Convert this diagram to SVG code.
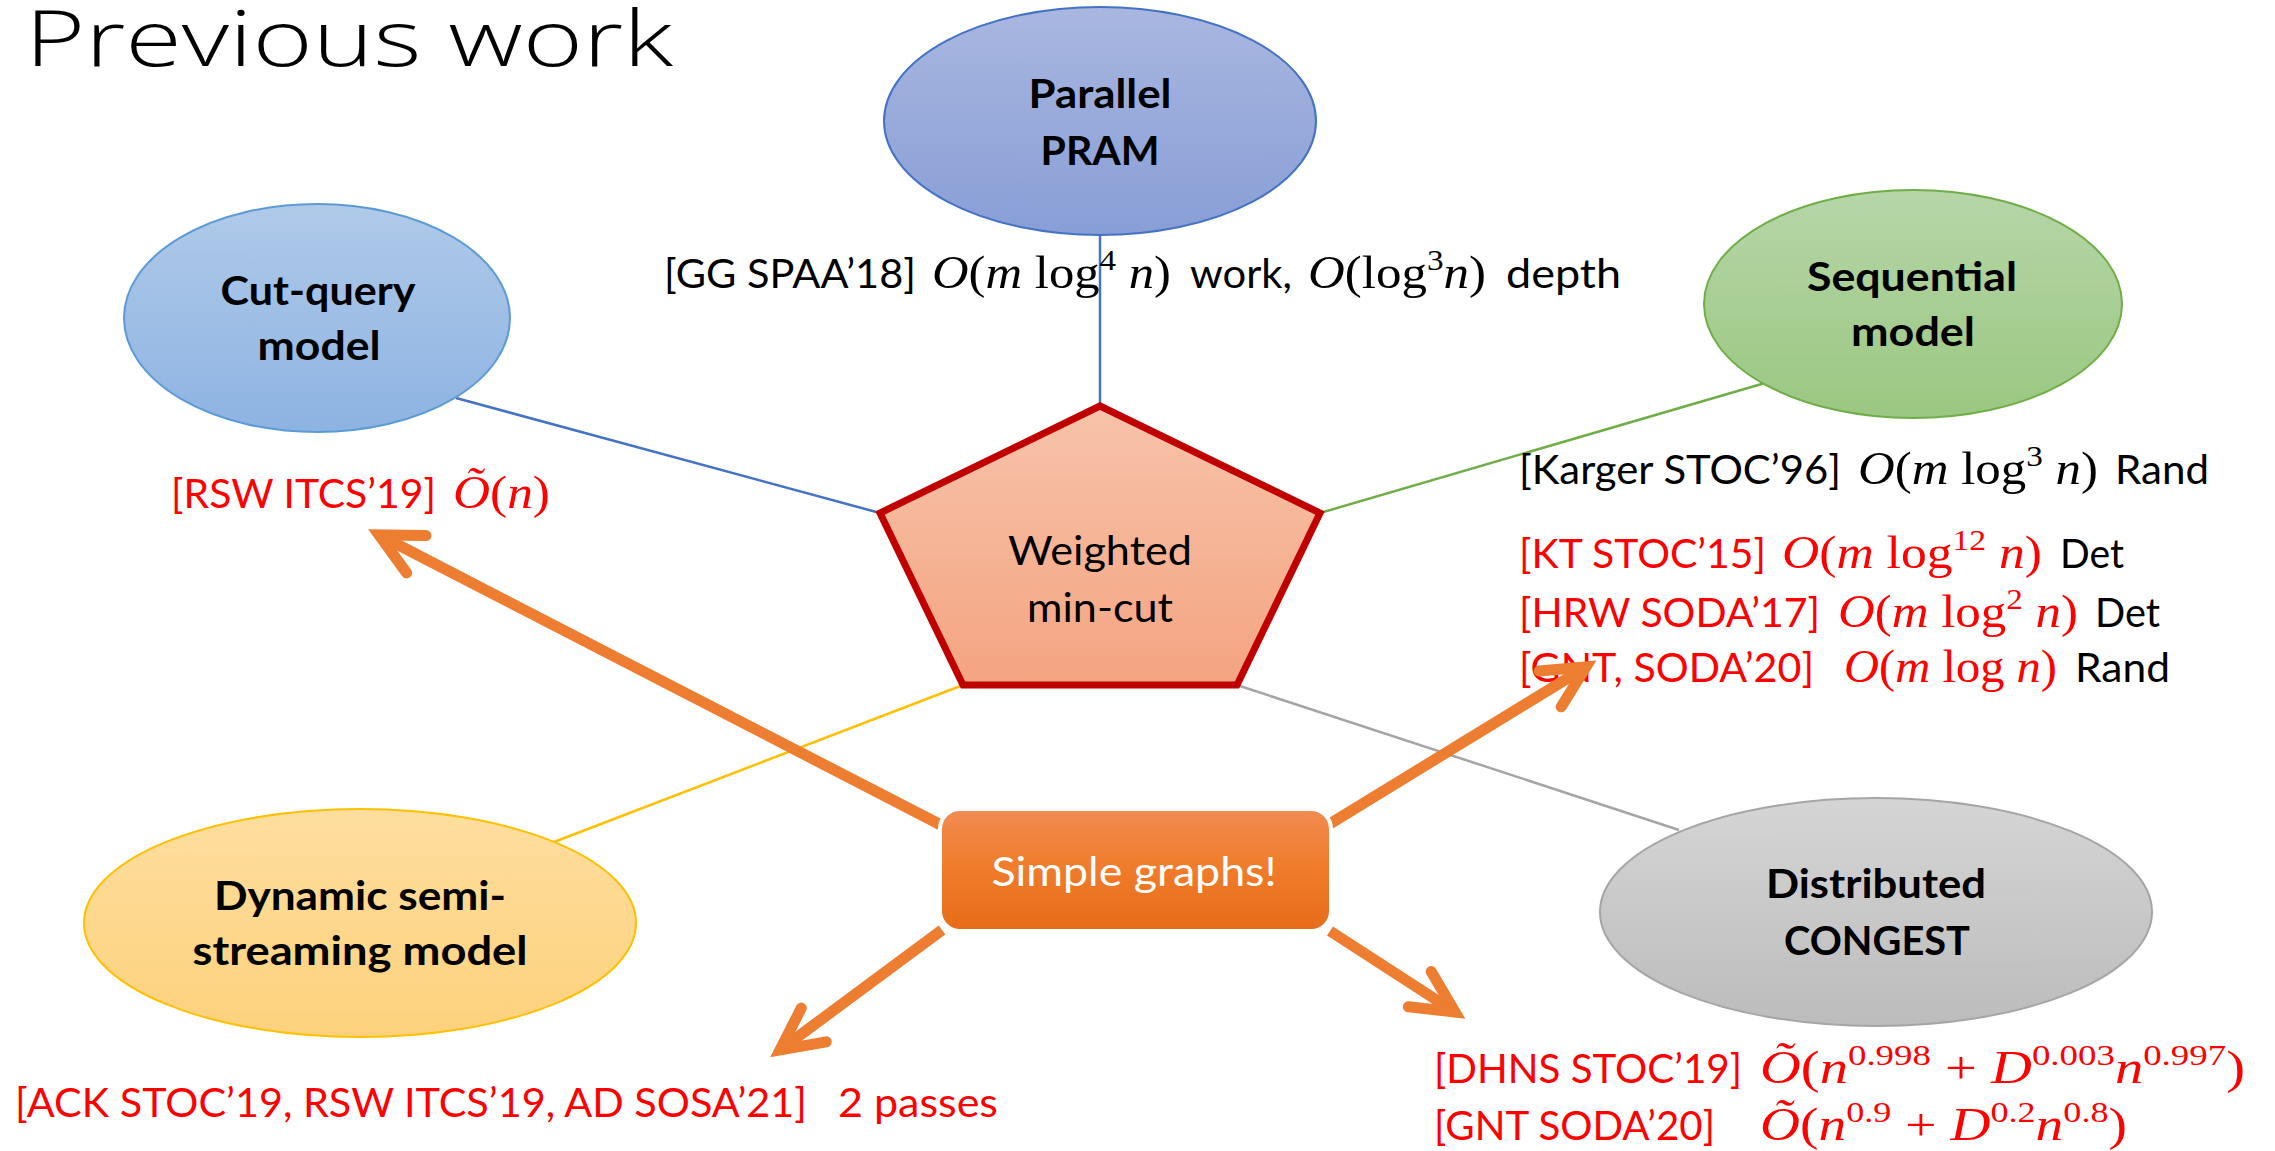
<svg xmlns="http://www.w3.org/2000/svg" width="2275" height="1151" viewBox="0 0 2275 1151">
  <defs>
    <style>
      .sans { font-family: Lato, "Open Sans", "Liberation Sans", sans-serif; font-size: 40px; }
      .bold { font-weight: 700; }
      .math { font-family: "Liberation Serif", "DejaVu Serif", serif; font-size: 46px; }
      .i { font-style: italic; }
      .sup { font-size: 30px; }
      .red { fill: #FF0000; }
      .blk { fill: #000000; }
      .edge { fill: none; stroke-width: 2.5; }
      .arrow { fill: none; stroke: #ED7D31; stroke-width: 11; }
    </style>
    <linearGradient id="gParallel" x1="0" y1="0" x2="0" y2="1">
      <stop offset="0" stop-color="#A9B7E0"/>
      <stop offset="1" stop-color="#889ED6"/>
    </linearGradient>
    <linearGradient id="gCut" x1="0" y1="0" x2="0" y2="1">
      <stop offset="0" stop-color="#B0CAE9"/>
      <stop offset="1" stop-color="#8DB3E2"/>
    </linearGradient>
    <linearGradient id="gSeq" x1="0" y1="0" x2="0" y2="1">
      <stop offset="0" stop-color="#B6D6A8"/>
      <stop offset="1" stop-color="#9AC781"/>
    </linearGradient>
    <linearGradient id="gDyn" x1="0" y1="0" x2="0" y2="1">
      <stop offset="0" stop-color="#FEDE9F"/>
      <stop offset="1" stop-color="#FDD17C"/>
    </linearGradient>
    <linearGradient id="gDist" x1="0" y1="0" x2="0" y2="1">
      <stop offset="0" stop-color="#D5D5D5"/>
      <stop offset="1" stop-color="#BCBCBC"/>
    </linearGradient>
    <linearGradient id="gPent" x1="0" y1="0" x2="0" y2="1">
      <stop offset="0" stop-color="#F7C3AA"/>
      <stop offset="1" stop-color="#F4A481"/>
    </linearGradient>
    <linearGradient id="gBox" x1="0" y1="0" x2="0" y2="1">
      <stop offset="0" stop-color="#F18C52"/>
      <stop offset="0.5" stop-color="#F07B2A"/>
      <stop offset="1" stop-color="#E66C19"/>
    </linearGradient>
    <!-- open chevron head for the thick orange arrows -->
    <marker id="head" viewBox="-60 -30 80 60" refX="0" refY="0" markerWidth="80" markerHeight="60" markerUnits="userSpaceOnUse" orient="auto">
      <path d="M-42,-21 L0,0 L-42,21" fill="none" stroke="#ED7D31" stroke-width="11" stroke-linecap="round" stroke-linejoin="miter"/>
    </marker>
  </defs>

  <rect x="0" y="0" width="2275" height="1151" fill="#FFFFFF"/>

  <!-- title -->
  <text x="25" y="66" font-family="'Open Sans', Lato, 'Liberation Sans', sans-serif" font-weight="300" font-size="78" textLength="648" lengthAdjust="spacingAndGlyphs" fill="#000">Previous work</text>

  <!-- thin connectors from the models to the central problem -->
  <g id="connectors">
    <path class="edge" d="M456,398 L880,513" stroke="#4472C4"/>
    <path class="edge" d="M1100,235 L1100,406" stroke="#4472C4" stroke-width="2"/>
    <path class="edge" d="M1765,383 L1320,513" stroke="#70AD47"/>
    <path class="edge" d="M554,842 L963,685" stroke="#FFC000"/>
    <path class="edge" d="M1237,685 L1679,830" stroke="#A5A5A5"/>
  </g>

  <g id="parallel">
    <ellipse cx="1100" cy="121" rx="216" ry="114" fill="url(#gParallel)" stroke="#4472C4" stroke-width="2"/>
    <text class="sans bold blk" x="1100" y="108" text-anchor="middle" textLength="143" lengthAdjust="spacingAndGlyphs">Parallel</text>
    <text class="sans bold blk" x="1100" y="165" text-anchor="middle" textLength="119" lengthAdjust="spacingAndGlyphs">PRAM</text>
  </g>

  <g id="cut-query">
    <ellipse cx="317" cy="318" rx="193" ry="114" fill="url(#gCut)" stroke="#5B9BD5" stroke-width="2"/>
    <text class="sans bold blk" x="318" y="305" text-anchor="middle" textLength="195" lengthAdjust="spacingAndGlyphs">Cut-query</text>
    <text class="sans bold blk" x="319" y="360" text-anchor="middle" textLength="123" lengthAdjust="spacingAndGlyphs">model</text>
  </g>

  <g id="sequential">
    <ellipse cx="1913" cy="304" rx="209" ry="114" fill="url(#gSeq)" stroke="#70AD47" stroke-width="2"/>
    <text class="sans bold blk" x="1912" y="291" text-anchor="middle" textLength="210" lengthAdjust="spacingAndGlyphs">Sequential</text>
    <text class="sans bold blk" x="1913" y="346" text-anchor="middle" textLength="124" lengthAdjust="spacingAndGlyphs">model</text>
  </g>

  <g id="dynamic">
    <ellipse cx="360" cy="923" rx="276" ry="114" fill="url(#gDyn)" stroke="#FFC000" stroke-width="2"/>
    <text class="sans bold blk" x="360" y="910" text-anchor="middle" textLength="292" lengthAdjust="spacingAndGlyphs">Dynamic semi-</text>
    <text class="sans bold blk" x="360" y="965" text-anchor="middle" textLength="335" lengthAdjust="spacingAndGlyphs">streaming model</text>
  </g>

  <g id="distributed">
    <ellipse cx="1876" cy="912" rx="276" ry="114" fill="url(#gDist)" stroke="#A5A5A5" stroke-width="2"/>
    <text class="sans bold blk" x="1876" y="898" text-anchor="middle" textLength="220" lengthAdjust="spacingAndGlyphs">Distributed</text>
    <text class="sans bold blk" x="1877" y="955" text-anchor="middle" textLength="186" lengthAdjust="spacingAndGlyphs">CONGEST</text>
  </g>

  <g id="min-cut">
    <polygon points="1100,406 1320,513 1237,685 963,685 880,513" fill="url(#gPent)" stroke="#C00000" stroke-width="7" stroke-linejoin="miter"/>
    <text class="sans blk" x="1100" y="565" text-anchor="middle" textLength="184" lengthAdjust="spacingAndGlyphs">Weighted</text>
    <text class="sans blk" x="1100" y="622" text-anchor="middle" textLength="146" lengthAdjust="spacingAndGlyphs">min-cut</text>
  </g>

  <!-- results per model -->
  <g id="results-parallel">
    <text class="sans blk" x="664" y="288" textLength="252" lengthAdjust="spacingAndGlyphs">[GG SPAA’18]</text>
    <text class="math blk" x="932" y="288" textLength="239" lengthAdjust="spacingAndGlyphs"><tspan class="i">O</tspan>(<tspan class="i">m</tspan> log<tspan class="sup" dy="-18">4</tspan><tspan class="i" dy="18"> n</tspan>)</text>
    <text class="sans blk" x="1190" y="288" textLength="102" lengthAdjust="spacingAndGlyphs">work,</text>
    <text class="math blk" x="1308" y="288" textLength="178" lengthAdjust="spacingAndGlyphs"><tspan class="i">O</tspan>(log<tspan class="sup" dy="-18">3</tspan><tspan class="i" dy="18">n</tspan>)</text>
    <text class="sans blk" x="1506" y="288" textLength="115" lengthAdjust="spacingAndGlyphs">depth</text>
  </g>

  <g id="results-sequential">
    <text class="sans blk" x="1519" y="484" textLength="322" lengthAdjust="spacingAndGlyphs">[Karger STOC’96]</text>
    <text class="math blk" x="1858" y="484" textLength="240" lengthAdjust="spacingAndGlyphs"><tspan class="i">O</tspan>(<tspan class="i">m</tspan> log<tspan class="sup" dy="-18">3</tspan><tspan class="i" dy="18"> n</tspan>)</text>
    <text class="sans blk" x="2115" y="484" textLength="94" lengthAdjust="spacingAndGlyphs">Rand</text>

    <text class="sans red" x="1519" y="568" textLength="247" lengthAdjust="spacingAndGlyphs">[KT STOC’15]</text>
    <text class="math red" x="1782" y="568" textLength="260" lengthAdjust="spacingAndGlyphs"><tspan class="i">O</tspan>(<tspan class="i">m</tspan> log<tspan class="sup" dy="-18">12</tspan><tspan class="i" dy="18"> n</tspan>)</text>
    <text class="sans blk" x="2060" y="568" textLength="64" lengthAdjust="spacingAndGlyphs">Det</text>

    <text class="sans red" x="1519" y="627" textLength="301" lengthAdjust="spacingAndGlyphs">[HRW SODA’17]</text>
    <text class="math red" x="1838" y="627" textLength="240" lengthAdjust="spacingAndGlyphs"><tspan class="i">O</tspan>(<tspan class="i">m</tspan> log<tspan class="sup" dy="-18">2</tspan><tspan class="i" dy="18"> n</tspan>)</text>
    <text class="sans blk" x="2095" y="627" textLength="65" lengthAdjust="spacingAndGlyphs">Det</text>

    <text class="sans red" x="1519" y="682" textLength="295" lengthAdjust="spacingAndGlyphs">[GNT, SODA’20]</text>
    <text class="math red" x="1844" y="682" textLength="213" lengthAdjust="spacingAndGlyphs"><tspan class="i">O</tspan>(<tspan class="i">m</tspan> log <tspan class="i">n</tspan>)</text>
    <text class="sans blk" x="2075" y="682" textLength="95" lengthAdjust="spacingAndGlyphs">Rand</text>
  </g>

  <g id="results-cut-query">
    <text class="sans red" x="171" y="508" textLength="265" lengthAdjust="spacingAndGlyphs">[RSW ITCS’19]</text>
    <text class="math red" x="453" y="508" textLength="97" lengthAdjust="spacingAndGlyphs"><tspan class="i">Õ</tspan>(<tspan class="i">n</tspan>)</text>
  </g>

  <g id="results-streaming">
    <text class="sans red" x="15" y="1117" textLength="792" lengthAdjust="spacingAndGlyphs">[ACK STOC’19, RSW ITCS’19, AD SOSA’21]</text>
    <text class="sans red" x="838" y="1117" textLength="160" lengthAdjust="spacingAndGlyphs">2 passes</text>
  </g>

  <g id="results-distributed">
    <text class="sans red" x="1434" y="1083" textLength="308" lengthAdjust="spacingAndGlyphs">[DHNS STOC’19]</text>
    <text class="math red" x="1760" y="1083" textLength="485" lengthAdjust="spacingAndGlyphs"><tspan class="i">Õ</tspan>(<tspan class="i">n</tspan><tspan class="sup" dy="-18">0.998</tspan><tspan dy="18"> + </tspan><tspan class="i">D</tspan><tspan class="sup" dy="-18">0.003</tspan><tspan class="i" dy="18">n</tspan><tspan class="sup" dy="-18">0.997</tspan><tspan dy="18">)</tspan></text>
    <text class="sans red" x="1434" y="1140" textLength="281" lengthAdjust="spacingAndGlyphs">[GNT SODA’20]</text>
    <text class="math red" x="1760" y="1140" textLength="367" lengthAdjust="spacingAndGlyphs"><tspan class="i">Õ</tspan>(<tspan class="i">n</tspan><tspan class="sup" dy="-18">0.9</tspan><tspan dy="18"> + </tspan><tspan class="i">D</tspan><tspan class="sup" dy="-18">0.2</tspan><tspan class="i" dy="18">n</tspan><tspan class="sup" dy="-18">0.8</tspan><tspan dy="18">)</tspan></text>
  </g>

  <!-- thick arrows out of the simple-graphs box -->
  <g id="arrows">
    <path class="arrow" d="M941,825 L379,535" marker-end="url(#head)"/>
    <path class="arrow" d="M1328,825 L1586,667" marker-end="url(#head)"/>
    <path class="arrow" d="M1330,931 L1455,1012" marker-end="url(#head)"/>
    <path class="arrow" d="M942,930 L780,1050" marker-end="url(#head)"/>
  </g>

  <g id="simple-graphs">
    <rect x="940" y="809" width="391" height="122" rx="20" ry="20" fill="url(#gBox)" stroke="#FFFFFF" stroke-width="4"/>
    <text class="sans" x="1134" y="886" text-anchor="middle" font-size="43" fill="#FFFFFF" textLength="285" lengthAdjust="spacingAndGlyphs">Simple graphs!</text>
  </g>
</svg>
